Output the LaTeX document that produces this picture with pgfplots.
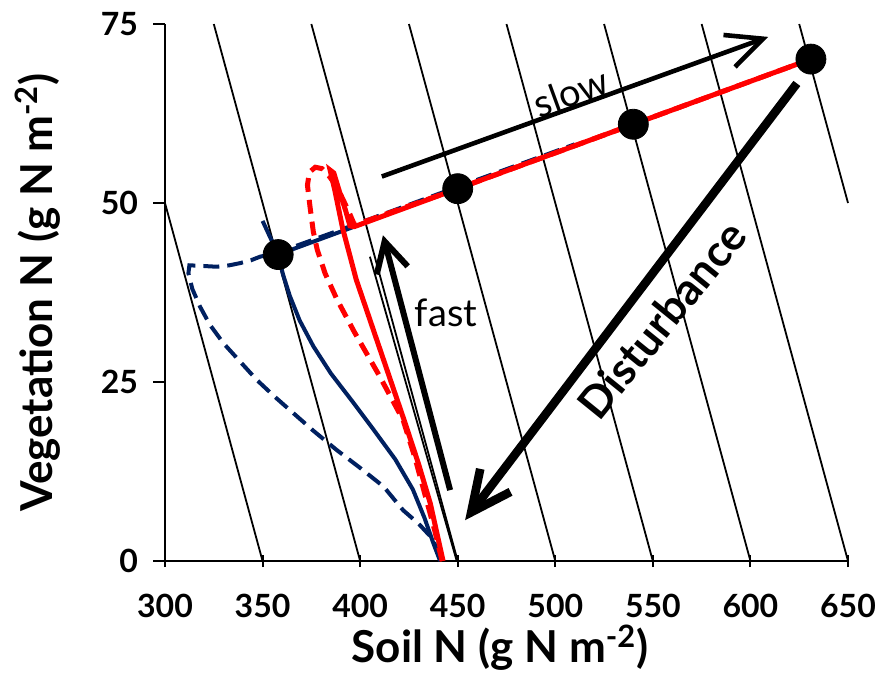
\documentclass[border=0pt]{standalone}
\usepackage{fontspec}
\setmainfont{Lato}
\usepackage{pgfplots}
\pgfplotsset{compat=1.18}
\usetikzlibrary{arrows.meta}
\definecolor{navy}{RGB}{0,32,96}
\definecolor{pred}{RGB}{255,0,0}
\begin{document}
\begin{tikzpicture}
\useasboundingbox (-82.5pt,-60pt) rectangle (358.5pt,280.5pt);
\begin{axis}[
  scale only axis, width=341.5pt, height=268.5pt,
  xmin=300, xmax=650, ymin=0, ymax=75,
  axis x line=bottom, axis y line=left,
  axis line style={line width=1.3pt, -},
  xtick={300,350,...,650}, ytick={0,25,50,75},
  xtick align=center, ytick align=outside,
  major tick length=6pt,
  every tick/.style={black, line width=1pt},
  tick label style={font=\fontsize{16}{16}\selectfont\bfseries},
  /pgf/number format/assume math mode=true,
  xticklabel style={yshift=-10pt},
  yticklabel style={xshift=-4pt},
  xlabel={Soil N (g N m\textsuperscript{-2})},
  ylabel={Vegetation N (g N m\textsuperscript{-2})},
  label style={font=\fontsize{22}{22}\selectfont\bfseries},
  xlabel style={at={(axis description cs:0.4905,-0.162)}, anchor=center},
  ylabel style={at={(axis description cs:-0.186,0.5)}, anchor=center},
  clip=false,
]
% lines of constant total N (soil + vegetation)
\addplot[black, line width=0.9pt] coordinates {(300,50) (350,0)};
\addplot[black, line width=0.9pt] coordinates {(325,75) (400,0)};
\addplot[black, line width=0.9pt] coordinates {(375,75) (450,0)};
\addplot[black, line width=0.9pt] coordinates {(425,75) (500,0)};
\addplot[black, line width=0.9pt] coordinates {(475,75) (550,0)};
\addplot[black, line width=0.9pt] coordinates {(525,75) (600,0)};
\addplot[black, line width=0.9pt] coordinates {(575,75) (650,0)};
\addplot[black, line width=0.9pt] coordinates {(625,75) (650,50)};
\addplot[black, line width=0.9pt] coordinates {(405,42.5) (449.5,0)};

% blue dashed trajectory
\addplot[navy, line width=2pt, dash pattern=on 8pt off 4pt] coordinates {
  (440.5,0.5) (437.5,3) (430,5.2) (422,7.1) (412,10.4) (400,13) (388,15.5)
  (376,18.2) (366,20.6) (356,23) (347,25.3) (338,28) (330,30.4) (323,33)
  (318,35.5) (314,38) (312,40.2) (312.5,41.3) (320,41.2) (326.5,41.1)
  (333,41.3) (338.4,41.6) (344,42) (348.7,42.5) (358,43.1) (400,47.25)
  (450,52.25) (510,58.2)
};
% blue solid trajectory
\addplot[navy, line width=2pt] coordinates {
  (441,0) (437.5,2.5) (433,6) (427,10) (418,14.2) (407,18.3) (396,22.3)
  (385,26.2) (376,30) (369,33.6) (364,37) (360.5,40) (358,42.8) (350,47.5)
  (358,42.8) (396,46.6)
};
% red dashed trajectory
\addplot[pred, line width=2.5pt, dash pattern=on 7pt off 4pt] coordinates {
  (442,0) (438,4.5) (433,9.5) (428,14.5) (422,19.7) (410,25.8) (397,32)
  (388,36.6) (382,40.2) (378,43.5) (376,46) (374.3,49.5) (373,52.5)
  (374,54.3) (377,55) (380.5,54.8) (384,53.8) (388,52.3) (391.4,50.4)
  (394.8,48.4) (397,47) (400,47.2) (450,52) (540,61) (631,70.1)
};
% red solid trajectory
\addplot[pred, line width=2.5pt] coordinates {
  (442.5,0) (436,8) (430,13.5) (423,19.3) (410.5,29.3) (398,39.3)
  (391,46.5) (387,51.8) (384.6,54.6) (386.5,54.2) (389.5,51.5) (392.5,49)
  (394.8,46.8) (397,46.7) (450,52) (540,61) (631,70.1)
};
% equilibrium points
\addplot[only marks, mark=*, mark size=7.5pt, black] coordinates {
  (358,42.8) (450,52) (540,61) (631,70.1)
};

% arrows
\addplot[black, line width=2.3pt, -{Straight Barb[length=18pt,width=17pt]}]
  coordinates {(411.1,53.7) (609.1,73.2)};
\addplot[black, line width=3pt, -{Straight Barb[length=15pt,width=16pt]}]
  coordinates {(446.1,9.9) (411.7,45.5)};
\addplot[black, line width=4.3pt, -{Straight Barb[length=20pt,width=19pt]}]
  coordinates {(623.8,66.7) (453.8,5.7)};

\node[rotate=20, font=\fontsize{19}{19}\selectfont] at (axis cs:508,65.5) {slow};
\node[font=\fontsize{19}{19}\selectfont] at (axis cs:444,34.6) {fast};
\node[rotate=51, font=\fontsize{22}{22}\selectfont\bfseries] at (axis cs:554.6,33.7) {Disturbance};
\end{axis}
\end{tikzpicture}
\end{document}
